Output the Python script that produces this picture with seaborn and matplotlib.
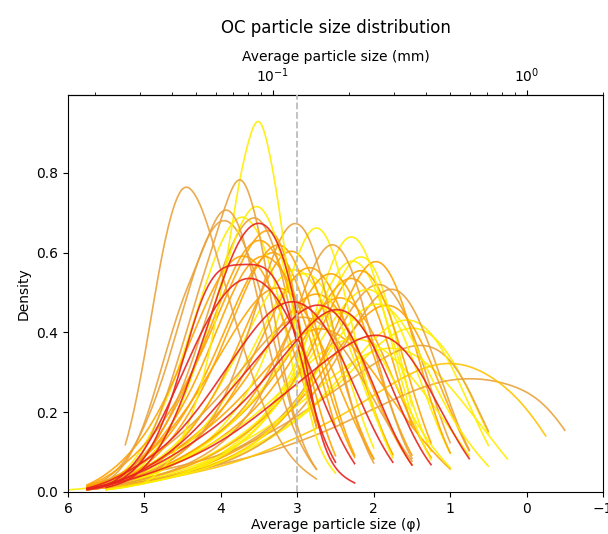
import numpy as np
import pandas as pd
import matplotlib
matplotlib.use("Agg")
import matplotlib.pyplot as plt
import seaborn as sns
from matplotlib.ticker import FixedLocator, LogLocator, LogFormatterSciNotation, NullFormatter

# particle-size classes (phi) shared by all samples
PHI_CLASSES = [6.0, 5.75, 5.5, 5.25, 5.0, 4.75, 4.5, 4.25, 4.0, 3.75, 3.5, 3.25, 3.0,
               2.75, 2.5, 2.25, 2.0, 1.75, 1.5, 1.25, 1.0, 0.75, 0.5, 0.25, 0.0, -0.25, -0.5]

YEL = "#ffee00"
ORA = "#ffa300"
TAN = "#e9a23b"
RED = "#e8231c"

# mass in each class per sample (0 = class absent)
R1 = [0, 0, 1, 2, 5, 11, 21, 34, 48, 60, 64, 60, 44, 12, 4, 2, 0, 0, 0, 0, 0, 0, 0, 0, 0, 0, 0]
R2 = [0, .5, 1, 3, 7, 15, 30, 48, 54, 53, 54, 52, 36, 15, 6, 0, 0, 0, 0, 0, 0, 0, 0, 0, 0, 0, 0]
R3 = [0, .5, 1.5, 3, 6, 9, 13, 18, 24, 30, 36, 42, 48, 52, 50, 42, 28, 15, 5, 0, 0, 0, 0, 0, 0, 0, 0]
R4 = [0, .5, 2, 4, 7, 10, 14, 20, 26, 33, 39, 44, 45, 42, 35, 24, 13, 6, 0, 0, 0, 0, 0, 0, 0, 0, 0]
R5 = [0, .5, 1.5, 3, 4, 6, 8, 10, 13, 16, 20, 24, 28, 32, 36, 40, 42, 42, 37, 26, 16, 7, 0, 0, 0, 0, 0]
R6 = [0, .5, 1.5, 3, 5, 7, 10, 13, 16, 20, 25, 30, 36, 42, 45, 44, 36, 24, 12, 5, 0, 0, 0, 0, 0, 0, 0]
R7 = [0, 0, 1, 3, 8, 15, 24, 33, 40, 44, 44, 40, 32, 22, 12, 5, 0, 0, 0, 0, 0, 0, 0, 0, 0, 0, 0]
O1 = [0, 0, 0, 8, 30, 60, 76, 68, 52, 36, 22, 12, 6, 3, 0, 0, 0, 0, 0, 0, 0, 0, 0, 0, 0, 0, 0]
O2 = [0, 0, 0, 3, 10, 22, 38, 55, 70, 88, 70, 38, 14, 5, 0, 0, 0, 0, 0, 0, 0, 0, 0, 0, 0, 0, 0]
O3 = [0, 0, 2, 6, 15, 32, 48, 57, 72, 68, 45, 25, 12, 5, 0, 0, 0, 0, 0, 0, 0, 0, 0, 0, 0, 0, 0]
Y1 = [0, 0, 0, 0, 2, 5, 12, 24, 45, 75, 94, 70, 32, 10, 4, 0, 0, 0, 0, 0, 0, 0, 0, 0, 0, 0, 0]
O4 = [0, .5, 1, 2, 4, 6, 9, 13, 19, 30, 45, 60, 67, 58, 35, 15, 5, 0, 0, 0, 0, 0, 0, 0, 0, 0, 0]
O5 = [0, .5, 1, 3, 6, 10, 16, 24, 34, 46, 57, 63, 58, 40, 20, 7, 0, 0, 0, 0, 0, 0, 0, 0, 0, 0, 0]
O6 = [0, 1, 2, 4, 8, 14, 22, 32, 44, 55, 60, 56, 40, 20, 6, 0, 0, 0, 0, 0, 0, 0, 0, 0, 0, 0, 0]
O7 = [0, .5, 1, 2, 3, 4, 6, 8, 11, 15, 21, 30, 42, 58, 64, 54, 34, 16, 6, 0, 0, 0, 0, 0, 0, 0, 0]
O8 = [0, .5, 1.5, 3, 4, 6, 8, 11, 14, 18, 24, 32, 42, 52, 56, 48, 32, 17, 7, 0, 0, 0, 0, 0, 0, 0, 0]
Y2 = [0, 0, 1, 2, 3, 5, 7, 10, 14, 19, 26, 37, 55, 66, 56, 34, 16, 6, 0, 0, 0, 0, 0, 0, 0, 0, 0]
Y3 = [0, 0, .5, 1, 2, 3, 4, 6, 8, 11, 15, 20, 28, 42, 60, 67, 55, 33, 15, 6, 0, 0, 0, 0, 0, 0, 0]
Y4 = [0, 0, .5, 1, 2, 3, 4, 5, 7, 9, 12, 16, 21, 28, 36, 43, 48, 46, 38, 27, 17, 11, 6, 0, 0, 0, 0]
Y5 = [0, .5, 1, 1.5, 2, 3, 4, 5, 6, 7, 9, 11, 13, 15, 17, 20, 23, 26, 29, 31, 32, 31, 29, 25, 21, 18, 0]
O9 = [0, .5, 1, 1.5, 2, 3, 4, 5, 6, 7, 8, 9, 11, 12, 14, 16, 18, 20, 22, 24, 25, 25, 25, 24, 22, 21, 20]
O10 = [0, 1, 2, 4, 7, 11, 17, 25, 35, 45, 50, 48, 40, 28, 12, 0, 0, 0, 0, 0, 0, 0, 0, 0, 0, 0, 0]
O11 = [0, .5, 1, 2, 4, 6, 9, 13, 18, 25, 34, 44, 53, 55, 47, 33, 18, 7, 0, 0, 0, 0, 0, 0, 0, 0, 0]
O12 = [0, 1, 2, 4, 7, 11, 16, 22, 29, 36, 42, 45, 42, 34, 24, 14, 6, 0, 0, 0, 0, 0, 0, 0, 0, 0, 0]
O13 = [0, 1, 2, 4, 6, 9, 12, 16, 20, 25, 30, 35, 38, 37, 33, 27, 19, 12, 6, 0, 0, 0, 0, 0, 0, 0, 0]
O14 = [0, .5, 1, 2, 3, 4, 5, 7, 9, 12, 15, 19, 25, 33, 44, 54, 52, 40, 22, 8, 0, 0, 0, 0, 0, 0, 0]
O15 = [0, .5, 1, 1.5, 2, 3, 4, 5, 7, 9, 12, 15, 20, 27, 37, 50, 60, 55, 38, 18, 6, 0, 0, 0, 0, 0, 0]
O16 = [0, .5, 1, 1.5, 2, 3, 4, 5, 6, 8, 10, 13, 17, 22, 29, 37, 45, 50, 46, 33, 18, 7, 0, 0, 0, 0, 0]
O17 = [0, 1, 3, 6, 10, 16, 24, 33, 41, 45, 43, 35, 24, 12, 0, 0, 0, 0, 0, 0, 0, 0, 0, 0, 0, 0, 0]
Y6 = [0, 0, .5, 1, 2, 3, 4, 6, 8, 11, 15, 20, 26, 33, 41, 48, 50, 44, 32, 18, 7, 0, 0, 0, 0, 0, 0]
Y7 = [0, 0, 1, 2, 4, 6, 9, 13, 18, 25, 33, 42, 49, 48, 40, 28, 16, 7, 0, 0, 0, 0, 0, 0, 0, 0, 0]
Y8 = [0, .5, 1, 2, 3, 5, 7, 9, 12, 16, 20, 26, 32, 37, 40, 38, 32, 24, 15, 9, 5, 0, 0, 0, 0, 0, 0]
Y9 = [0, 0, 1, 2, 5, 9, 16, 26, 38, 50, 55, 47, 30, 12, 0, 0, 0, 0, 0, 0, 0, 0, 0, 0, 0, 0, 0]
Y10 = [0, 0, .5, 1, 2, 3, 4, 5, 6, 8, 10, 12, 15, 18, 22, 27, 32, 36, 38, 35, 28, 18, 8, 0, 0, 0, 0]
Y11 = [.5, .5, 1, 2, 3, 4, 6, 8, 10, 12, 15, 18, 22, 26, 29, 30, 29, 26, 22, 17, 12, 7, 0, 0, 0, 0, 0]
O18 = [0, .5, 1, 2, 3, 5, 7, 9, 12, 15, 19, 24, 31, 39, 47, 52, 46, 30, 12, 0, 0, 0, 0, 0, 0, 0, 0]
O19 = [0, 1, 2, 3, 4, 5, 6, 7, 8, 10, 12, 14, 17, 20, 23, 26, 29, 32, 34, 35, 33, 27, 12, 0, 0, 0, 0]
O20 = [0, 1, 2, 3, 4, 6, 8, 10, 13, 16, 20, 24, 28, 30, 29, 26, 21, 16, 11, 7, 4, 0, 0, 0, 0, 0, 0]
O21 = [0, .5, 1, 1.5, 2, 3, 4, 5, 7, 9, 11, 14, 18, 23, 29, 35, 40, 42, 38, 28, 16, 7, 0, 0, 0, 0, 0]
O22 = [0, .5, 1, 2, 4, 7, 11, 16, 23, 32, 42, 52, 55, 46, 30, 15, 6, 0, 0, 0, 0, 0, 0, 0, 0, 0, 0]
O23 = [0, .5, 1.5, 3, 5, 7, 10, 13, 17, 22, 28, 35, 41, 45, 42, 33, 21, 11, 5, 0, 0, 0, 0, 0, 0, 0, 0]
O24 = [0, 0, 1, 3, 7, 13, 22, 34, 48, 58, 62, 52, 32, 12, 0, 0, 0, 0, 0, 0, 0, 0, 0, 0, 0, 0, 0]
O25 = [0, 1, 3, 6, 10, 15, 22, 30, 40, 50, 58, 60, 45, 8, 0, 0, 0, 0, 0, 0, 0, 0, 0, 0, 0, 0, 0]
Y12 = [0, 0, .5, 1, 2, 3, 4, 6, 8, 11, 15, 20, 28, 38, 50, 55, 48, 34, 18, 7, 0, 0, 0, 0, 0, 0, 0]
Y13 = [0, .5, 1, 2, 4, 6, 9, 13, 18, 24, 31, 37, 40, 36, 27, 16, 6, 0, 0, 0, 0, 0, 0, 0, 0, 0, 0]
Y14 = [0, .5, 1, 1.5, 2, 3, 4, 5, 7, 9, 11, 13, 16, 19, 22, 25, 27, 28, 27, 24, 20, 15, 11, 6, 0, 0, 0]
Y15 = [0, 0, 1, 3, 7, 13, 21, 31, 40, 45, 42, 32, 16, 0, 0, 0, 0, 0, 0, 0, 0, 0, 0, 0, 0, 0, 0]
O26 = [0, .5, 1, 2, 3, 5, 7, 9, 12, 15, 19, 24, 30, 37, 42, 40, 33, 23, 13, 6, 0, 0, 0, 0, 0, 0, 0]
O27 = [0, .5, 1, 1.5, 2, 3, 4, 5, 7, 9, 11, 14, 18, 24, 31, 39, 45, 44, 35, 20, 7, 0, 0, 0, 0, 0, 0]
Y16 = [0, 0, 1, 2, 3, 4, 5, 7, 9, 12, 15, 19, 25, 33, 45, 54, 55, 40, 14, 0, 0, 0, 0, 0, 0, 0, 0]
O28 = [0, 1, 2, 3, 6, 10, 15, 22, 31, 41, 49, 52, 45, 30, 15, 6, 0, 0, 0, 0, 0, 0, 0, 0, 0, 0, 0]
Y17 = [0, .5, 1, 1.5, 2, 2.5, 3, 4, 5, 6, 8, 10, 12, 15, 18, 21, 25, 28, 30, 29, 25, 18, 10, 0, 0, 0, 0]
O29 = [0, .5, 2, 5, 11, 20, 32, 44, 50, 47, 37, 24, 10, 0, 0, 0, 0, 0, 0, 0, 0, 0, 0, 0, 0, 0, 0]

# first listed is drawn on top
SAMPLE_IDS = ["R1", "R2", "R3", "R4", "R5", "R6", "R7",
              "O1", "O2", "O3", "Y1", "O4", "O5", "O6", "O7", "O8", "Y2", "Y3", "Y4", "Y5", "O9",
              "O10", "O11", "O12", "O13", "O14", "O15", "O16", "O17", "Y6", "Y7", "Y8", "Y9",
              "Y10", "Y11", "O18", "O19", "O20", "O21", "O22", "O23", "O24", "O25", "Y12", "Y13", "Y14",
              "Y15", "O26", "O27", "Y16", "O28", "Y17", "O29"]
MASSES = [R1, R2, R3, R4, R5, R6, R7,
          O1, O2, O3, Y1, O4, O5, O6, O7, O8, Y2, Y3, Y4, Y5, O9,
          O10, O11, O12, O13, O14, O15, O16, O17, Y6, Y7, Y8, Y9,
          Y10, Y11, O18, O19, O20, O21, O22, O23, O24, O25, Y12, Y13, Y14,
          Y15, O26, O27, Y16, O28, Y17, O29]
SAMPLE_COLORS = [RED] * 7 + [TAN, TAN, TAN, YEL, TAN, ORA, ORA, TAN, ORA, YEL, YEL, YEL, "#ffc400", TAN,
                             ORA, ORA, ORA, TAN, ORA, ORA, TAN, ORA, YEL, YEL, YEL, YEL,
                             YEL, YEL, ORA, TAN, ORA, ORA, ORA, ORA, TAN, ORA, YEL, YEL, YEL,
                             YEL, ORA, TAN, YEL, ORA, YEL, TAN]

TITLE = "OC particle size distribution"
XLABEL = "Average particle size (\u03c6)"
TOP_LABEL = "Average particle size (mm)"
BOUNDARY_PHI = 3.0
TOP_MAJOR_TICKS = [0.1, 1.0]

rows = []
for sid, masses in zip(SAMPLE_IDS, MASSES):
    for p, m in zip(PHI_CLASSES, masses):
        if m > 0:
            rows.append((sid, p, m))
df = pd.DataFrame(rows, columns=["sample", "phi", "mass"])

fig = plt.figure(figsize=(6.08, 5.34), dpi=100)
ax = fig.add_axes([0.1118, 0.0787, 0.8800, 0.7434])

sns.kdeplot(data=df, x="phi", weights="mass", hue="sample", hue_order=SAMPLE_IDS,
            palette=dict(zip(SAMPLE_IDS, SAMPLE_COLORS)), common_norm=False, cut=0,
            bw_adjust=0.45, legend=False, linewidth=1.2, alpha=0.9, ax=ax)

ax.axvline(BOUNDARY_PHI, color="#bdbdbd", linestyle="--", linewidth=1.3, zorder=5)
ax.set_xlim(6, -1)
ax.set_ylim(0, 0.995)
ax.set_xlabel(XLABEL, fontsize=10, labelpad=2)
ax.set_ylabel("Density", fontsize=10)


def phi_to_mm(p):
    return 2.0 ** (-np.asarray(p, dtype=float))


def mm_to_phi(d):
    d = np.clip(np.asarray(d, dtype=float), 1e-12, None)
    return -np.log2(d)


secax = ax.secondary_xaxis("top", functions=(phi_to_mm, mm_to_phi))
secax.xaxis.set_major_locator(FixedLocator(TOP_MAJOR_TICKS))
secax.xaxis.set_minor_locator(LogLocator(base=10, subs=np.arange(2, 10), numticks=20))
secax.xaxis.set_major_formatter(LogFormatterSciNotation())
secax.xaxis.set_minor_formatter(NullFormatter())
secax.set_xlabel(TOP_LABEL, fontsize=10)

ax.set_title(TITLE, fontsize=12, pad=12)

fig.savefig("out.png", dpi=100)
